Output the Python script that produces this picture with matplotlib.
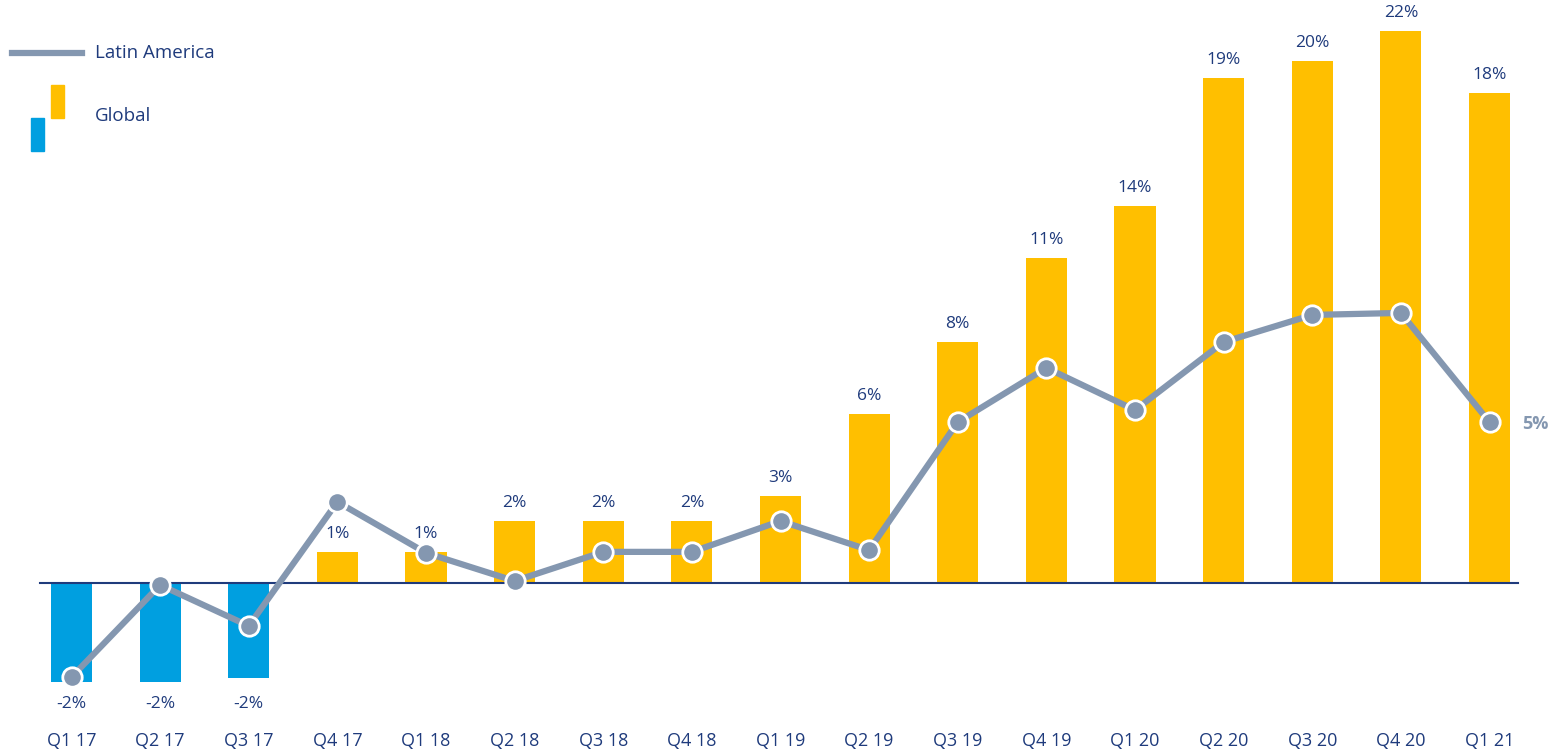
import matplotlib
matplotlib.use("Agg")
import matplotlib.pyplot as plt
from matplotlib.patches import Rectangle
from matplotlib.lines import Line2D

plt.rcParams['font.family'] = ['Open Sans', 'DejaVu Sans']

quarters = ['Q1 17', 'Q2 17', 'Q3 17', 'Q4 17', 'Q1 18', 'Q2 18', 'Q3 18', 'Q4 18',
            'Q1 19', 'Q2 19', 'Q3 19', 'Q4 19', 'Q1 20', 'Q2 20', 'Q3 20', 'Q4 20', 'Q1 21']
# bar heights as drawn in the source chart
global_vals = [-3.94, -3.94, -3.78, 1.24, 1.24, 2.47, 2.47, 2.47, 3.47, 6.73,
               9.6, 12.95, 15.02, 20.12, 20.8, 21.99, 19.52]
global_labels = ['-2%', '-2%', '-2%', '1%', '1%', '2%', '2%', '2%', '3%', '6%',
                 '8%', '11%', '14%', '19%', '20%', '22%', '18%']
latam_vals = [-3.75, -0.08, -1.71, 3.23, 1.2, 0.08, 1.24, 1.24, 2.47, 1.31,
              6.41, 8.57, 6.89, 9.6, 10.68, 10.76, 6.41]
latam_last_label = '5%'

navy = '#1f3b7c'
grey_line = '#8497b0'
yellow = '#ffbf00'
blue = '#009fe0'

W, H = 1550, 753
fig = plt.figure(figsize=(W / 100, H / 100), dpi=100)
ax = fig.add_axes([0, 0, 1, 1])
px_x = 88.625
px_y = 25.1
ax.set_xlim(-71.5 / px_x, (W - 71.5) / px_x)
ax.set_ylim(-(H - 583) / px_y, 583 / px_y)
ax.axis('off')

x = list(range(len(quarters)))
colors = [blue if v < 0 else yellow for v in global_vals]
ax.bar(x, global_vals, width=0.463, color=colors, zorder=2)
ax.plot([-0.355, 16.32], [0, 0], color=navy, lw=1.5, zorder=3)

ax.plot(x, latam_vals, color=grey_line, lw=4.5, marker='o', markersize=14,
        markerfacecolor=grey_line, markeredgecolor='white', markeredgewidth=2, zorder=4)

for xi, v, lab in zip(x, global_vals, global_labels):
    if v >= 0:
        ax.text(xi, v + 18 / px_y, lab, ha='center', va='center', fontsize=12.5, color=navy)
    else:
        ax.text(xi, -121 / px_y, lab, ha='center', va='center', fontsize=12.5, color=navy)
    ax.text(xi, -158 / px_y, quarters[xi], ha='center', va='center', fontsize=13, color=navy)

ax.text(x[-1] + 0.37, latam_vals[-1] - 2 / px_y, latam_last_label, ha='left', va='center',
        fontsize=13, color=grey_line, fontweight='bold')

# legend
fig.add_artist(Line2D([12 / W, 82 / W], [1 - 53 / H, 1 - 53 / H], color=grey_line, lw=4.5))
fig.text(95 / W, 1 - 53 / H, 'Latin America', ha='left', va='center', fontsize=13.5, color=navy)
fig.add_artist(Rectangle((51 / W, 1 - 118 / H), 13 / W, 33 / H, color=yellow, transform=fig.transFigure))
fig.add_artist(Rectangle((31 / W, 1 - 151 / H), 13 / W, 33 / H, color=blue, transform=fig.transFigure))
fig.text(95 / W, 1 - 116 / H, 'Global', ha='left', va='center', fontsize=13.5, color=navy)

fig.savefig('out.png', dpi=100)
